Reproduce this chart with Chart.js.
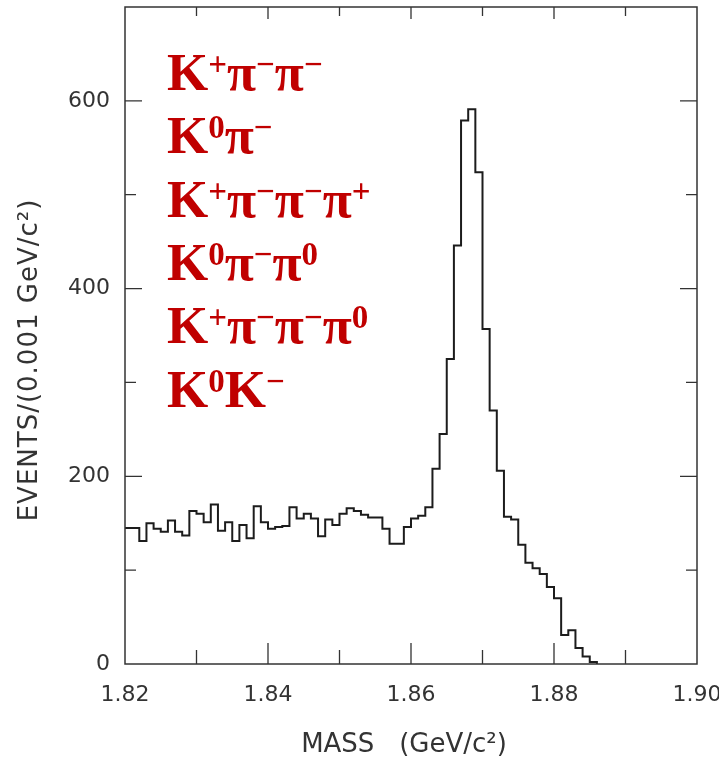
<!DOCTYPE html>
<html lang="en">
<head>
    <meta charset="UTF-8">
    <title>D meson mass spectrum</title>
    <style>
        body {
            margin: 0;
            padding: 0;
            background-color: #ffffff;
        }

        #massChart {
            display: block;
        }
    </style>
</head>
<body>

<canvas id="massChart" width="719" height="761"></canvas>

<script src="https://cdn.jsdelivr.net/npm/chart.js"></script>
<script>
    // histogram: events per 0.001 GeV/c^2 bin, starting at 1.820
    const binStart = 1.82;
    const binWidth = 0.001;
    const counts = [
        145, 145, 131, 150, 144, 141, 153, 141, 137, 163,
        160, 151, 170, 142, 151, 131, 148, 134, 168, 151,
        144, 146, 147, 167, 155, 160, 155, 136, 154, 148,
        160, 166, 163, 159, 156, 156, 144, 128, 128, 146,
        155, 158, 167, 208, 245, 325, 446, 579, 591, 524,
        357, 270, 206, 157, 154, 127, 108, 102, 96, 82,
        70, 31, 36, 17, 8, 2
    ];

    const yLabelValues = [0, 200, 400, 600];
    const xLabelValues = [1.82, 1.84, 1.86, 1.88, 1.90];

    const channels = ['K^+π^−π^−', 'K^0π^−', 'K^+π^−π^−π^+', 'K^0π^−π^0', 'K^+π^−π^−π^0', 'K^0K^−'];

    const xTitle = 'MASS   (GeV/c²)';
    const yTitle = 'EVENTS/(0.001 GeV/c²)';

    // step points: each point holds its value until the next one
    const points = counts.map((c, i) => ({ x: +(binStart + i * binWidth).toFixed(3), y: c }));
    points.push({ x: +(binStart + counts.length * binWidth).toFixed(3), y: 0 });

    const inkColor = '#333333';

    // no automatic label room, the axis boxes have fixed sizes
    function noPadding(s) {
        s.paddingTop = 0;
        s.paddingBottom = 0;
        s.paddingLeft = 0;
        s.paddingRight = 0;
    }

    // frame, inward ticks, axis titles and the decay channel list
    const decorPlugin = {
        id: 'decor',
        afterDraw(chart) {
            const ctx = chart.ctx;
            const area = chart.chartArea;
            const xs = chart.scales.x;
            const ys = chart.scales.y;

            ctx.save();
            ctx.strokeStyle = inkColor;
            ctx.lineWidth = 1.5;
            ctx.strokeRect(area.left, area.top, area.right - area.left, area.bottom - area.top);

            ctx.lineWidth = 1.3;
            ctx.beginPath();
            for (let k = 1; k < 8; k++) {
                const px = xs.getPixelForValue(binStart + k * 0.01);
                const major = k % 2 === 0;
                ctx.moveTo(px, area.bottom);
                ctx.lineTo(px, area.bottom - (major ? 21 : 14));
                ctx.moveTo(px, area.top);
                ctx.lineTo(px, area.top + (major ? 12 : 9));
            }
            for (let v = 100; v < 700; v += 100) {
                const py = ys.getPixelForValue(v);
                const len = v % 200 === 0 ? 17 : 11;
                ctx.moveTo(area.left, py);
                ctx.lineTo(area.left + len, py);
                ctx.moveTo(area.right, py);
                ctx.lineTo(area.right - len, py);
            }
            ctx.stroke();

            // axis titles
            ctx.fillStyle = inkColor;
            ctx.font = '26px "DejaVu Sans"';
            ctx.textAlign = 'center';
            ctx.textBaseline = 'middle';
            ctx.fillText(xTitle, 404, 745);

            ctx.save();
            ctx.translate(30, 360);
            ctx.rotate(-Math.PI / 2);
            ctx.letterSpacing = '1px';
            ctx.fillText(yTitle, 0, 0);
            ctx.restore();

            // decay channels, '^' marks a superscript character
            ctx.fillStyle = '#c00000';
            ctx.textAlign = 'left';
            ctx.textBaseline = 'alphabetic';
            channels.forEach((txt, row) => {
                let x = 167;
                const base = 90 + row * 63.3;
                for (let i = 0; i < txt.length; i++) {
                    if (txt[i] === '^') {
                        i++;
                        ctx.font = 'bold 33px "Liberation Serif"';
                        ctx.fillText(txt[i], x, base - 15);
                        x += ctx.measureText(txt[i]).width;
                    } else {
                        ctx.font = 'bold 53px "Liberation Serif"';
                        ctx.fillText(txt[i], x, base);
                        x += ctx.measureText(txt[i]).width;
                    }
                }
            });
            ctx.restore();
        }
    };

    const ctx = document.getElementById('massChart').getContext('2d');
    const massChart = new Chart(ctx, {
        type: 'line',
        data: {
            datasets: [{
                data: points,
                borderColor: '#1c1c1c',
                borderWidth: 2,
                pointRadius: 0,
                stepped: 'before',
                fill: false
            }]
        },
        options: {
            responsive: false,
            animation: false,
            devicePixelRatio: 1,
            layout: {
                autoPadding: false,
                padding: { top: 7, right: 22, left: 0, bottom: 0 }
            },
            plugins: {
                legend: { display: false },
                tooltip: { enabled: false }
            },
            scales: {
                x: {
                    type: 'linear',
                    min: 1.82,
                    max: 1.90,
                    afterFit: (s) => { s.height = 97; noPadding(s); },
                    grid: { display: false, drawTicks: false },
                    border: { display: false },
                    afterBuildTicks: (s) => { s.ticks = xLabelValues.map(v => ({ value: v })); },
                    ticks: {
                        autoSkip: false,
                        maxRotation: 0,
                        padding: 18,
                        color: inkColor,
                        font: { family: 'DejaVu Sans', size: 22 },
                        callback: (v) => v.toFixed(2)
                    }
                },
                y: {
                    min: 0,
                    max: 700,
                    afterFit: (s) => { s.width = 125; noPadding(s); },
                    grid: { display: false, drawTicks: false },
                    border: { display: false },
                    afterBuildTicks: (s) => { s.ticks = yLabelValues.map(v => ({ value: v })); },
                    ticks: {
                        padding: 15,
                        color: inkColor,
                        font: { family: 'DejaVu Sans', size: 22 }
                    }
                }
            }
        },
        plugins: [decorPlugin]
    });
</script>
</body>
</html>
